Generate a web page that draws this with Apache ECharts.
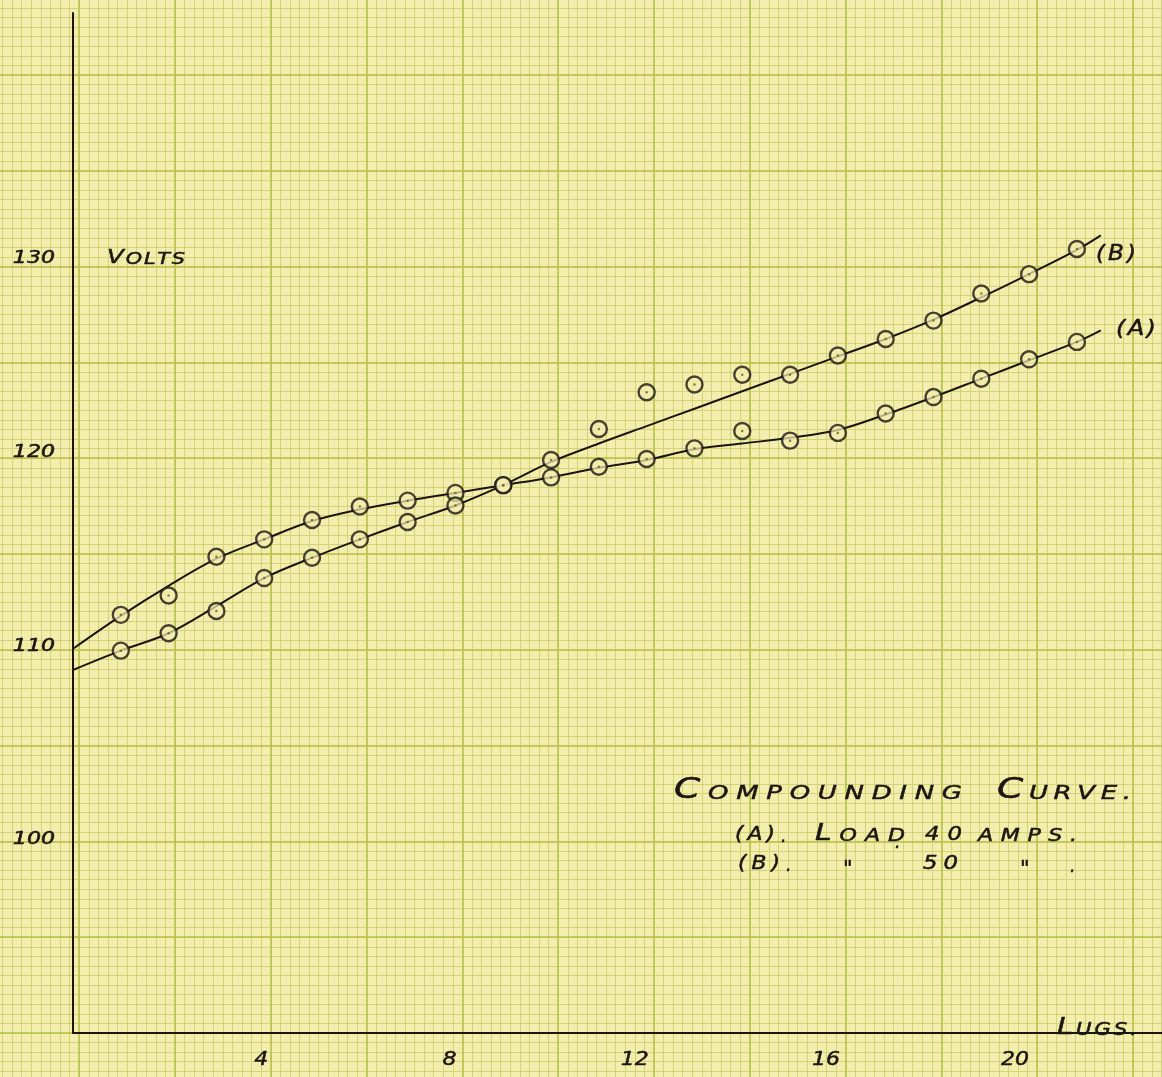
<!DOCTYPE html>
<html>
<head>
<meta charset="utf-8">
<title>Compounding Curve</title>
<script src="https://cdn.jsdelivr.net/npm/echarts@6/dist/echarts.min.js"></script>
<style>
  html, body { margin: 0; padding: 0; background: #f4eeae; }
  #chart { width: 1162px; height: 1077px; }
</style>
</head>
<body>
<div id="chart"></div>
<script>
// Readings: terminal volts against number of lugs
const lugs = [1, 2, 3, 4, 5, 6, 7, 8, 9, 10, 11, 12, 13, 14, 15, 16, 17, 18, 19, 20, 21];
// (A) load 40 amps
const voltsA = [111.6, 112.6, 114.6, 115.5, 116.5, 117.2, 117.5, 117.9, 118.3, 118.7, 119.25,
                119.65, 120.2, 121.1, 120.6, 121.0, 122.0, 122.85, 123.8, 124.8, 125.7];
// (B) load 50 amps
const voltsB = [109.75, 110.65, 111.8, 113.5, 114.55, 115.5, 116.4, 117.25, 118.3, 119.6, 121.2,
                123.1, 123.5, 124.0, 124.0, 125.0, 125.85, 126.8, 128.2, 129.2, 130.5];

// Faired curves drawn through each set of readings
const curveLugs = [0, 1, 2, 3, 4, 5, 6, 7, 8, 9, 10, 11, 12, 13, 14, 15, 16, 17, 18, 19, 20, 21, 21.5];
const curveA = [109.85, 111.55, 113.1, 114.5, 115.5, 116.45, 117.05, 117.5, 117.9, 118.3, 118.7, 119.2,
                119.6, 120.15, 120.45, 120.75, 121.15, 121.95, 122.85, 123.8, 124.75, 125.7, 126.3];
const curveB = [108.75, 109.75, 110.65, 112.05, 113.5, 114.55, 115.5, 116.4, 117.25, 118.3, 119.5, 120.45,
                121.35, 122.25, 123.15, 124.05, 124.95, 125.85, 126.85, 128.0, 129.2, 130.45, 131.2];

const xTicks = [4, 8, 12, 16, 20];
const yTicks = [100, 110, 120, 130];

const ink = '#1c1512';
const paper = '#f4eeae';
const FAMILY = '"DejaVu Sans"';

const measureCtx = document.createElement('canvas').getContext('2d');
function glyphWidth(ch, size) {
  measureCtx.font = 'italic ' + size + 'px ' + FAMILY;
  return measureCtx.measureText(ch).width;
}

// Hand-style lettering: glyphs drawn one by one, widened by sx and spread
// to span a given width, all sitting on a common baseline.
function lettering(x0, baseline, segs, width, sx) {
  sx = sx || 1;
  const glyphs = [];
  segs.forEach(seg => { for (const ch of seg.t) glyphs.push({ ch: ch, s: seg.s }); });
  const total = glyphs.reduce((a, g) => a + glyphWidth(g.ch, g.s) * sx, 0);
  const gap = glyphs.length > 1 ? (width - total) / (glyphs.length - 1) : 0;
  let x = x0;
  return glyphs.map(g => {
    const el = {
      type: 'text', silent: true, z: 10,
      x: x, y: baseline - 0.346 * g.s, scaleX: sx,
      style: {
        text: g.ch, x: 0, y: 0, fill: ink, stroke: ink, lineWidth: 0.5,
        font: 'italic ' + g.s + 'px ' + FAMILY, align: 'left', verticalAlign: 'middle'
      }
    };
    x += glyphWidth(g.ch, g.s) * sx + gap;
    return el;
  });
}

// a figure set at its natural spacing, anchored right or centred
function figure(text, s, sx, anchorX, baseline, align) {
  const w = text.split('').reduce((a, ch) => a + glyphWidth(ch, s) * sx, 0);
  const x0 = align === 'right' ? anchorX - w : anchorX - w / 2;
  return lettering(x0, baseline, [{ t: text, s: s }], w, sx);
}

const notes = [].concat(
  lettering(107, 265, [{ t: 'V', s: 19 }, { t: 'OLTS', s: 16 }], 78, 1.3),
  lettering(674, 801, [{ t: 'C', s: 29 }, { t: 'OMPOUNDING', s: 20 }], 288, 1.3),
  lettering(997, 801, [{ t: 'C', s: 29 }, { t: 'URVE.', s: 20 }], 134, 1.3),
  lettering(735, 842, [{ t: '(A)', s: 19 }], 40, 1.15),
  lettering(781, 843, [{ t: '.', s: 17 }], 0),
  lettering(815, 842, [{ t: 'L', s: 23 }, { t: 'OAD', s: 17 }], 90, 1.3),
  lettering(895, 849, [{ t: '.', s: 17 }], 0),
  lettering(925, 842, [{ t: '40', s: 19 }], 37, 1.2),
  lettering(978, 842, [{ t: 'AMPS.', s: 17 }], 99, 1.3),
  lettering(738, 871, [{ t: '(B)', s: 19 }], 42, 1.15),
  lettering(786, 872, [{ t: '.', s: 17 }], 0),
  lettering(843, 878, [{ t: '"', s: 21 }], 0),
  lettering(923, 871, [{ t: '50', s: 19 }], 35, 1.2),
  lettering(1020, 878, [{ t: '"', s: 21 }], 0),
  lettering(1070, 873, [{ t: '.', s: 17 }], 0),
  lettering(1096, 262, [{ t: '(B)', s: 21 }], 40, 1.1),
  lettering(1116, 337, [{ t: '(A)', s: 22 }], 40, 1.1),
  lettering(1057, 1036, [{ t: 'L', s: 23 }, { t: 'UGS.', s: 17 }], 80, 1.25)
);

// hand placement of the x figures relative to their lug (px)
const xNudge = { 4: -3, 8: -6, 12: -12, 16: -12, 20: -14 };

// graph-paper ruling: fine cells with a heavier line every 10 cells
const CELL = 9.58;
const FINE = '#d2d478';
const HEAVY = '#b7c049';
const hidden = gridIndex => ({ gridIndex: gridIndex, type: 'value', show: false, min: 0, max: 1 });
const ruling = (gridIndex, max, color, width) => ({
  gridIndex: gridIndex, type: 'value', min: 0, max: max, interval: 1, silent: true,
  z: color === HEAVY ? 1 : 0,
  axisLine: { show: false }, axisTick: { show: false }, axisLabel: { show: false },
  splitLine: { show: true, lineStyle: { color: color, width: width } }
});

const chart = echarts.init(document.getElementById('chart'), null, { renderer: 'canvas' });

chart.setOption({
  animation: false,
  backgroundColor: paper,
  grid: [
    { left: 79.2 - 8 * CELL, width: 121 * CELL, top: 0, bottom: 0 },   // fine verticals
    { left: 0, right: 0, top: 75 - 7 * CELL, height: 111 * CELL },     // fine horizontals
    { left: 79.2, width: 110 * CELL, top: 0, bottom: 0 },              // heavy verticals
    { left: 0, right: 0, top: 75, height: 100 * CELL },                // heavy horizontals
    { left: 73, top: 13, right: 0, bottom: 44 }                        // plot
  ],
  xAxis: [
    ruling(0, 121, FINE, 1),
    hidden(1),
    ruling(2, 11, HEAVY, 1.5),
    hidden(3),
    {
      gridIndex: 4, type: 'value', min: 0, max: 22.78, silent: true, z: 5,
      axisLine: { show: true, onZero: false, lineStyle: { color: ink, width: 2 } },
      axisTick: { show: false }, axisLabel: { show: false }, splitLine: { show: false }
    }
  ],
  yAxis: [
    hidden(0),
    ruling(1, 111, FINE, 1),
    hidden(2),
    ruling(3, 10, HEAVY, 1.5),
    {
      gridIndex: 4, type: 'value', min: 90, max: 142.69, silent: true, z: 5,
      axisLine: { show: true, onZero: false, lineStyle: { color: ink, width: 2 } },
      axisTick: { show: false }, axisLabel: { show: false }, splitLine: { show: false }
    }
  ],
  series: [
    {
      name: 'Curve (A)', type: 'line', xAxisIndex: 4, yAxisIndex: 4, z: 2,
      data: curveLugs.map((x, i) => [x, curveA[i]]), smooth: 0.35, showSymbol: false,
      lineStyle: { color: ink, width: 2 }
    },
    {
      name: 'Curve (B)', type: 'line', xAxisIndex: 4, yAxisIndex: 4, z: 2,
      data: curveLugs.map((x, i) => [x, curveB[i]]), smooth: 0.35, showSymbol: false,
      lineStyle: { color: ink, width: 2 }
    },
    {
      name: '(A) Load 40 amps', type: 'scatter', xAxisIndex: 4, yAxisIndex: 4, z: 3,
      data: lugs.map((x, i) => [x, voltsA[i]]), symbol: 'circle', symbolSize: 16,
      itemStyle: { color: 'rgba(244,238,174,0.9)', borderColor: ink, borderWidth: 2.4 }
    },
    {
      name: '(B) Load 50 amps', type: 'scatter', xAxisIndex: 4, yAxisIndex: 4, z: 3,
      data: lugs.map((x, i) => [x, voltsB[i]]), symbol: 'circle', symbolSize: 16,
      itemStyle: { color: 'rgba(244,238,174,0.9)', borderColor: ink, borderWidth: 2.4 }
    },
    {
      name: 'centres', type: 'scatter', xAxisIndex: 4, yAxisIndex: 4, z: 4,
      data: lugs.map((x, i) => [x, voltsA[i]]).concat(lugs.map((x, i) => [x, voltsB[i]])),
      symbol: 'circle', symbolSize: 2.5, itemStyle: { color: '#6a5a42' }
    }
  ]
});

// Axis figures, lettered at the positions given by the plot's own axes
const figures = [];
yTicks.forEach(v => {
  const py = chart.convertToPixel({ yAxisIndex: 4 }, v);
  figures.push.apply(figures, figure(String(v), 17, 1.3, 55, py + 6.2, 'right'));
});
xTicks.forEach(v => {
  const px = chart.convertToPixel({ xAxisIndex: 4 }, v);
  figures.push.apply(figures, figure(String(v), 20, 1.1, px + xNudge[v], 1067, 'center'));
});

chart.setOption({ graphic: notes.concat(figures) });
</script>
</body>
</html>
